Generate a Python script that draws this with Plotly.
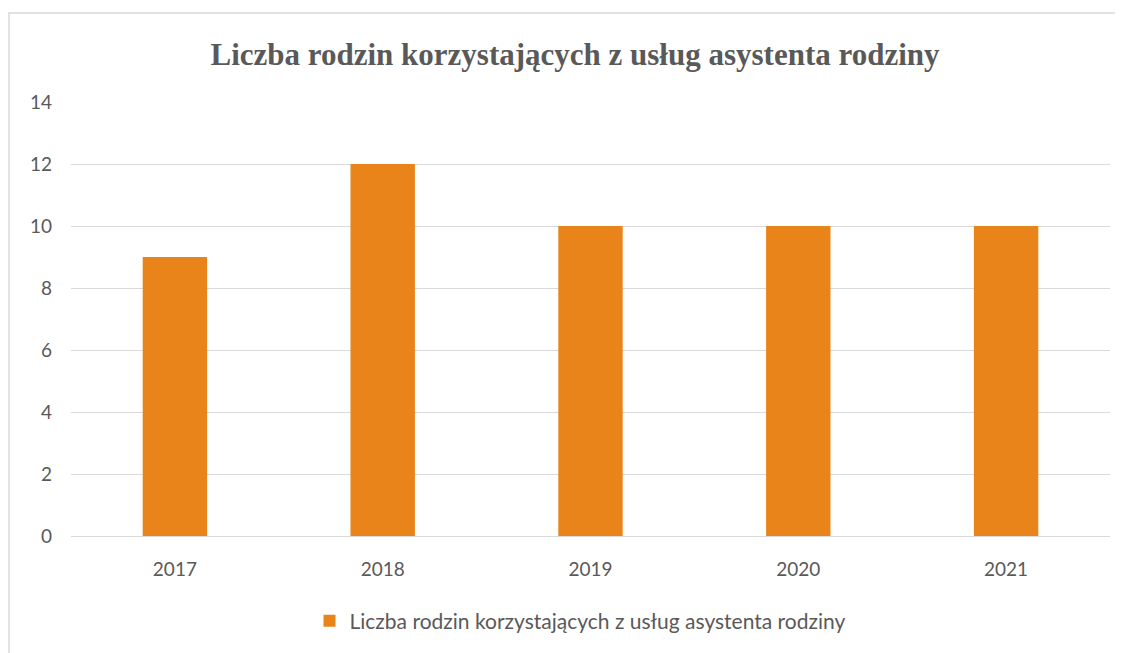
import plotly.graph_objects as go

years = ["2017", "2018", "2019", "2020", "2021"]
values = [9, 12, 10, 10, 10]
series_name = "Liczba rodzin korzystających z usług asystenta rodziny"
title_text = "Liczba rodzin korzystających z usług asystenta rodziny"

# page body has an 8px offset; figure sized to fill window
OFF = 8
W, H = 1123 - OFF, 653 - OFF
ml, mt = 71 - OFF, 102 - OFF
mr = W - (1110 - OFF)
mb = H - (541 - OFF)
pw, ph = W - ml - mr, H - mt - mb

fig = go.Figure()
fig.add_trace(go.Bar(
    x=years, y=values, name=series_name,
    marker=dict(color="#E8841A", line=dict(width=0)),
    width=0.31, showlegend=True,
))

bx0 = ((9 - OFF) - ml) / pw
by1 = 1 + (mt - (12 - OFF)) / ph

fig.update_layout(
    width=W, height=H,
    margin=dict(l=ml, r=mr, t=mt, b=mb),
    paper_bgcolor="white", plot_bgcolor="white",
    title=dict(text="<b>" + title_text + "</b>", x=(575 - OFF) / W, xanchor="center",
               y=1 - (54 - OFF) / H, yanchor="middle",
               font=dict(family="Liberation Serif", size=31, color="#595959")),
    xaxis=dict(showgrid=False, showline=False, ticks="", ticklabelstandoff=20,
               tickfont=dict(family="Lato", size=19, color="#595959")),
    yaxis=dict(range=[0, 14], dtick=2, showgrid=True, gridcolor="#d9d9d9",
               gridwidth=1, zeroline=True, zerolinecolor="#d9d9d9", zerolinewidth=1,
               showline=False, ticks="", ticklabelstandoff=18,
               tickfont=dict(family="Lato", size=19, color="#595959")),
    legend=dict(orientation="h", x=(580 - OFF - ml) / pw, xanchor="center",
                y=-(627 - 541) / ph, yanchor="middle",
                font=dict(family="Lato", size=21, color="#595959")),
    shapes=[dict(type="rect", xref="paper", yref="paper", x0=bx0, x1=1.5,
                 y0=-1, y1=by1, line=dict(color="#d9d9d9", width=1.5),
                 fillcolor="rgba(0,0,0,0)", layer="below")],
)

fig.write_html("out.html")
